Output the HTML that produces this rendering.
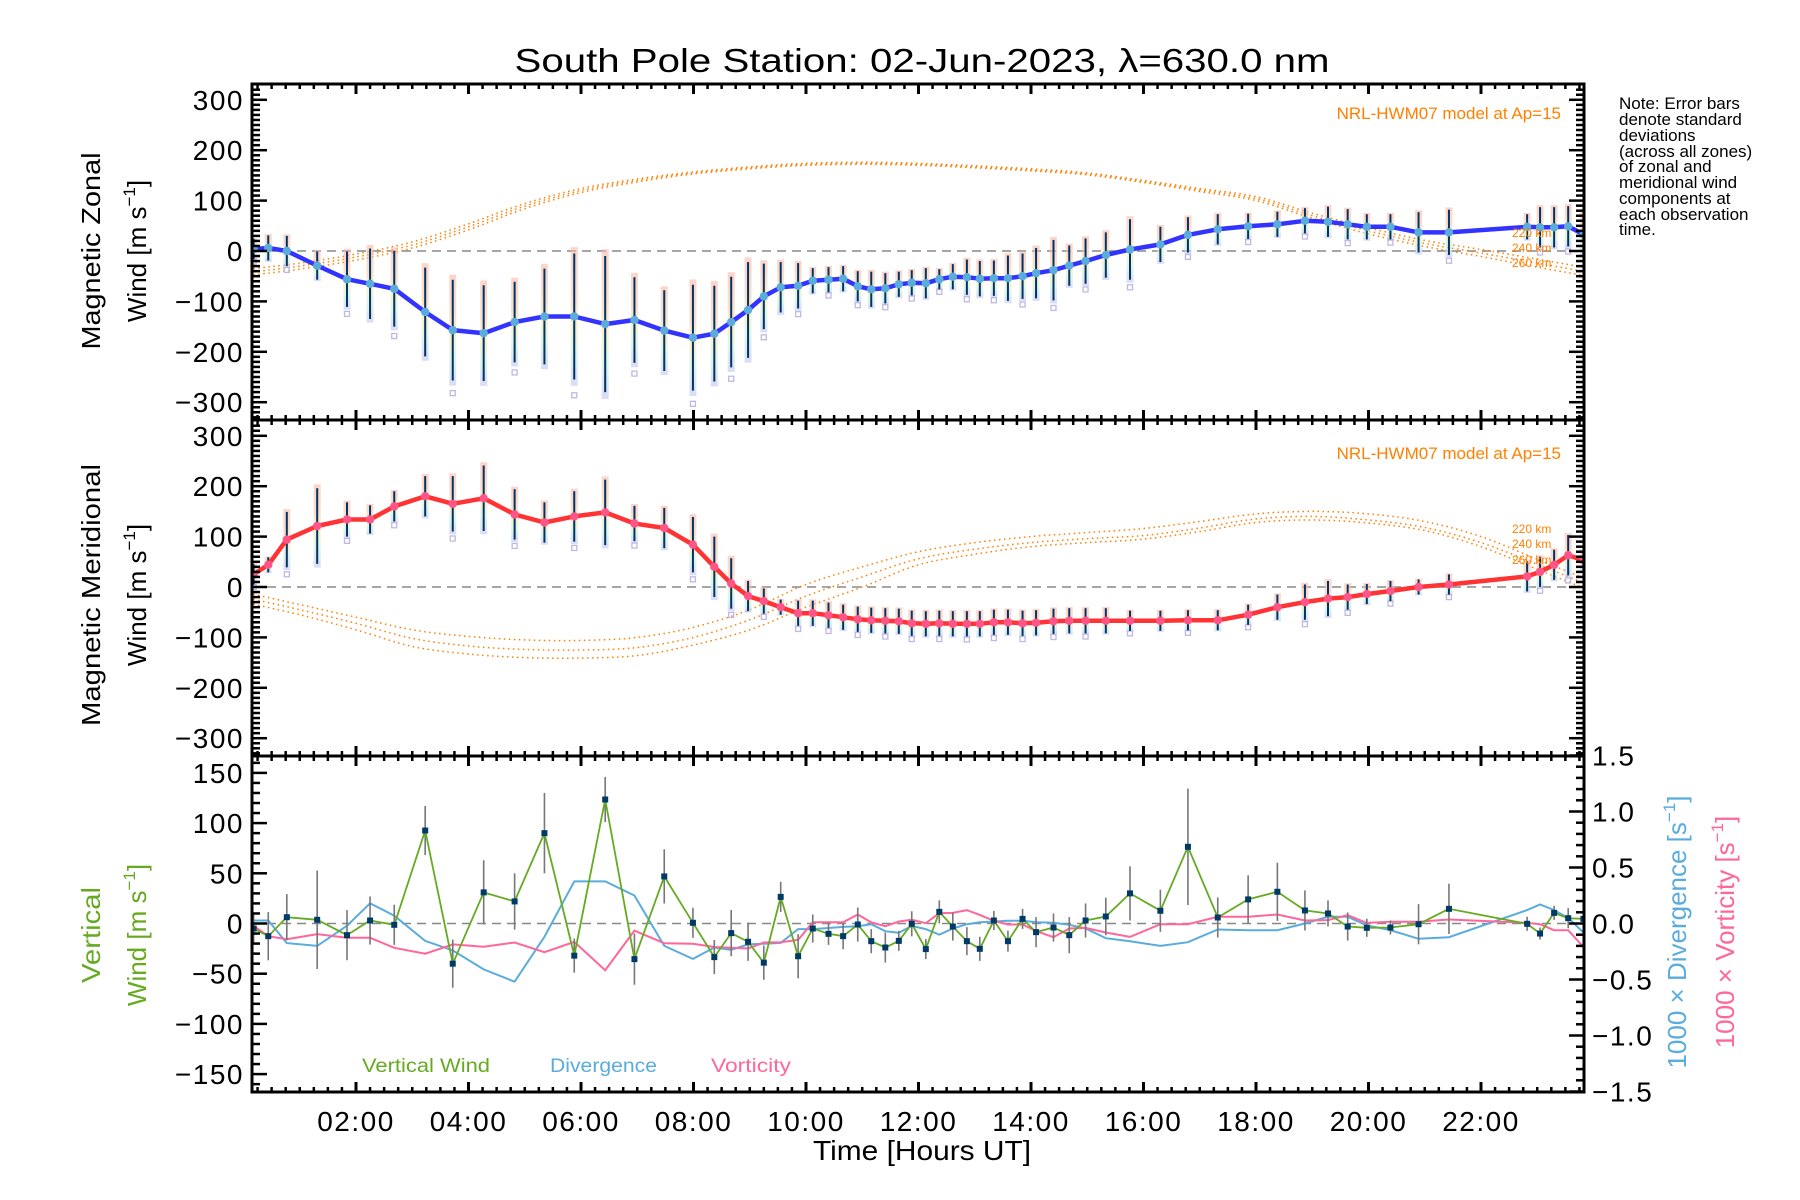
<!DOCTYPE html>
<html><head><meta charset="utf-8"><title>South Pole Station winds</title>
<style>
html,body{margin:0;padding:0;background:#fff;}
svg{display:block;font-family:"Liberation Sans",sans-serif;}
</style></head>
<body>
<svg id="chart" width="1800" height="1200" viewBox="0 0 1800 1200" xmlns="http://www.w3.org/2000/svg">
<defs>
<linearGradient id="pastel" x1="0" y1="0" x2="0" y2="1">
<stop offset="0" stop-color="#f9b8a8"/><stop offset="0.35" stop-color="#f9c8a8"/><stop offset="0.55" stop-color="#fbe6a8"/><stop offset="0.75" stop-color="#c8f0d8"/><stop offset="1" stop-color="#c0c4f4"/>
</linearGradient>
<clipPath id="clip1"><rect x="252" y="84" width="1332" height="336"/></clipPath>
<clipPath id="clip2"><rect x="252" y="420" width="1332" height="336"/></clipPath>
<clipPath id="clip3"><rect x="252" y="756" width="1332" height="336"/></clipPath>
</defs>
<rect x="0" y="0" width="1800" height="1200" fill="#fff"/>
<text x="922" y="72" font-size="33" text-anchor="middle" textLength="815" lengthAdjust="spacingAndGlyphs">South Pole Station: 02-Jun-2023, λ=630.0 nm</text>
<g id="g1"></g>
<g id="g2"></g>
<g id="g3"></g>
<g id="axes"></g>
<g id="labels">
<text transform="translate(100,251) rotate(-90)" font-size="26" text-anchor="middle" textLength="197" lengthAdjust="spacingAndGlyphs">Magnetic Zonal</text>
<text transform="translate(146,251) rotate(-90)" font-size="26" text-anchor="middle">Wind [m s<tspan font-size="17" dy="-11">−1</tspan><tspan dy="11">]</tspan></text>
<text transform="translate(100,595) rotate(-90)" font-size="26" text-anchor="middle" textLength="262" lengthAdjust="spacingAndGlyphs">Magnetic Meridional</text>
<text transform="translate(146,595) rotate(-90)" font-size="26" text-anchor="middle">Wind [m s<tspan font-size="17" dy="-11">−1</tspan><tspan dy="11">]</tspan></text>
<text transform="translate(100,935) rotate(-90)" font-size="26" fill="#66aa22" text-anchor="middle" textLength="96" lengthAdjust="spacingAndGlyphs">Vertical</text>
<text transform="translate(146,935) rotate(-90)" font-size="26" fill="#66aa22" text-anchor="middle">Wind [m s<tspan font-size="17" dy="-11">−1</tspan><tspan dy="11">]</tspan></text>
<text transform="translate(1686,932) rotate(-90)" font-size="26" fill="#5aacdc" text-anchor="middle">1000 × Divergence [s<tspan font-size="17" dy="-11">−1</tspan><tspan dy="11">]</tspan></text>
<text transform="translate(1734,932) rotate(-90)" font-size="26" fill="#ff6699" text-anchor="middle">1000 × Vorticity [s<tspan font-size="17" dy="-11">−1</tspan><tspan dy="11">]</tspan></text>
<text x="922" y="1160" font-size="28" text-anchor="middle" textLength="218" lengthAdjust="spacingAndGlyphs">Time [Hours UT]</text>
<text x="1561" y="119" font-size="17" fill="#ff8000" text-anchor="end">NRL-HWM07 model at Ap=15</text>
<text x="1561" y="459" font-size="17" fill="#ff8000" text-anchor="end">NRL-HWM07 model at Ap=15</text>
<g font-size="12" fill="#ff8000">
<text x="1512" y="237">220 km</text>
<text x="1512" y="252">240 km</text>
<text x="1512" y="267">260 km</text>
<text x="1512" y="533">220 km</text>
<text x="1512" y="548">240 km</text>
<text x="1512" y="564">260 km</text>
</g>
<g font-size="17">
<text x="1619" y="109">Note: Error bars</text>
<text x="1619" y="125">denote standard</text>
<text x="1619" y="141">deviations</text>
<text x="1619" y="157">(across all zones)</text>
<text x="1619" y="172">of zonal and</text>
<text x="1619" y="188">meridional wind</text>
<text x="1619" y="204">components at</text>
<text x="1619" y="220">each observation</text>
<text x="1619" y="235">time.</text>
</g>
<text x="362" y="1072" font-size="19" fill="#66aa22" textLength="128" lengthAdjust="spacingAndGlyphs">Vertical Wind</text>
<text x="550" y="1072" font-size="19" fill="#5aacdc" textLength="107" lengthAdjust="spacingAndGlyphs">Divergence</text>
<text x="711" y="1072" font-size="19" fill="#ff6699" textLength="80" lengthAdjust="spacingAndGlyphs">Vorticity</text>
</g>
</svg>
<script>
const T=[0.18,0.44,0.77,1.31,1.84,2.25,2.68,3.23,3.72,4.27,4.82,5.35,5.88,6.43,6.95,7.48,7.99,8.37,8.67,8.97,9.25,9.55,9.86,10.12,10.40,10.66,10.92,11.16,11.41,11.65,11.88,12.13,12.37,12.61,12.86,13.09,13.34,13.59,13.85,14.09,14.40,14.68,14.97,15.33,15.76,16.30,16.79,17.32,17.86,18.38,18.87,19.28,19.63,19.97,20.39,20.89,21.43,22.82,23.05,23.30,23.55,23.82];
const ZONAL=[4,6,0,-29,-56,-65,-75,-121,-157,-163,-141,-130,-130,-145,-137,-158,-172,-164,-141,-117,-90,-72,-69,-59,-57,-55,-70,-76,-74,-66,-63,-64,-56,-51,-52,-55,-54,-54,-50,-44,-38,-29,-20,-8,3,13,32,43,49,53,60,58,53,48,48,37,37,48,47,47,49,33];
const ZONAL_ERR=[20,25,30,28,55,70,75,88,100,95,80,95,125,135,85,80,105,95,90,95,65,50,45,25,25,25,30,35,30,25,25,30,20,25,35,35,35,45,45,50,60,40,45,45,60,35,35,30,25,25,25,30,30,25,25,40,45,25,40,40,40,40];
const MERID=[25,44,94,121,134,134,160,180,165,176,144,128,140,148,126,117,84,40,7,-18,-28,-40,-52,-52,-56,-60,-64,-66,-67,-68,-72,-73,-72,-73,-73,-73,-70,-70,-72,-71,-68,-67,-67,-67,-67,-67,-66,-66,-55,-40,-30,-23,-20,-14,-8,0,5,21,30,44,63,53];
const MERID_ERR=[20,15,55,75,34,28,30,40,55,65,50,40,50,65,35,40,55,60,50,30,25,15,25,25,25,25,25,25,25,25,25,25,25,25,25,25,25,25,25,25,25,25,25,25,20,20,20,20,20,25,35,35,25,20,20,15,20,30,30,30,40,20];
const VWIND=[-5,-12.6,6.3,3.7,-11.6,3,-1.3,92.6,-40,31,22,90,-32,123.5,-35.5,46.9,0.7,-33.5,-9.6,-18.2,-39,26.5,-32.6,-5,-10.3,-12.6,-1,-17.6,-23.9,-17.3,-0.3,-25.5,11.6,-3,-17.6,-25.2,3,-17.6,4.6,-8.6,-4,-11.6,3,7,30,12.7,76.4,6,24,31.6,13,10,-3,-4.3,-4,-0.7,14.6,-0.3,-10,10.6,5.3,4.6];
const VWIND_ERR=[15,24,23,49,25,24,20,24.5,24,32,28,40,17,22.5,25.5,27,15,17,23,19,17,15,22,14,11,13,17,12,15,10,12.5,10,11.5,14,14,12,9.5,10.5,10,15,14,18,17,18.7,27,21,58,20,24,29,20,13,14,9,7,20,25,7,6,7,10,0];
const DIVERG=[0.027,0.027,-0.175,-0.2,-0.02,0.18,0.07,-0.155,-0.24,-0.41,-0.52,-0.12,0.376,0.376,0.25,-0.2,-0.316,-0.214,-0.235,-0.187,-0.18,-0.173,-0.05,-0.05,-0.04,-0.03,-0.024,-0.006,-0.069,-0.083,-0.021,-0.05,-0.1,-0.045,-0.006,0.012,0.018,0.024,0.024,0.012,0.006,-0.012,-0.045,-0.131,-0.158,-0.2,-0.167,-0.054,-0.06,-0.06,0,0.06,0.06,-0.017,-0.06,-0.137,-0.122,0.12,0.17,0.12,0.05,-0.08];
const VORT=[-0.02,-0.113,-0.14,-0.095,-0.128,-0.128,-0.217,-0.27,-0.187,-0.208,-0.17,-0.256,-0.164,-0.417,-0.063,-0.176,-0.18,-0.21,-0.217,-0.223,-0.17,-0.167,-0.146,0.012,0.012,0.012,0.08,0.01,-0.024,0.018,0.033,0.003,0.092,0.095,0.12,0.077,0.024,-0.009,-0.009,-0.068,-0.122,-0.045,-0.039,-0.08,-0.12,-0.006,-0.006,0.06,0.06,0.08,0.027,0.03,0.074,0.005,0.015,0.015,0.036,0.005,-0.006,-0.06,-0.06,-0.21];
const MODEL_HOURS=[0,1,2,3,4,5,6,7,8,9,10,11,12,13,14,15,16,17,18,19,20,21,22,23,24];
const HWM_ZON_220=[-37,-24,-6,18,54,94,124,143,157,167,174,176,174,169,163,155,140,124,108,75,46,21,3,-16,-36];
const HWM_ZON_240=[-44,-30,-12,12,48,89,120,140,155,165,172,174,172,167,161,153,138,121,104,70,40,15,-4,-24,-44];
const HWM_ZON_260=[-50,-36,-18,6,42,84,116,137,153,163,170,172,170,165,159,151,136,118,100,65,34,9,-11,-32,-52];
const HWM_MER_220=[-10,-35,-60,-85,-98,-105,-106,-100,-80,-45,5,40,70,88,100,108,116,130,145,150,145,130,100,55,10];
const HWM_MER_240=[-20,-45,-72,-102,-117,-124,-125,-120,-100,-65,-18,20,56,75,88,96,102,117,135,140,133,118,88,45,0];
const HWM_MER_260=[-30,-55,-85,-118,-133,-140,-141,-136,-115,-85,-40,0,44,65,80,88,95,110,128,133,127,112,80,35,-10];
const X_TICKS=[2,4,6,8,10,12,14,16,18,20,22];
const X_TICK_LABELS=["02:00","04:00","06:00","08:00","10:00","12:00","14:00","16:00","18:00","20:00","22:00"];

const NS="http://www.w3.org/2000/svg";
const XL=252,XR=1584;
function xs(t){return 356+(t-2)*56.25;}
function y1(v){return 251-v*0.504;}
function y2(v){return 587-v*0.504;}
function y3(v){return 923.5-v*1.004;}
function y3r(d){return 923.5-d*112;}
function mk(tag,attrs,parent){const e=document.createElementNS(NS,tag);for(const k in attrs)e.setAttribute(k,attrs[k]);parent.appendChild(e);return e;}
function poly(ts,vs,yf){return ts.map((t,i)=>xs(t).toFixed(1)+","+yf(vs[i]).toFixed(1)).join(" ");}
function smooth(ts,vs,yf){
  const p=ts.map((t,i)=>[xs(t),yf(vs[i])]);
  let d="M"+p[0][0]+","+p[0][1];
  for(let i=0;i<p.length-1;i++){
    const p0=p[Math.max(0,i-1)],p1=p[i],p2=p[i+1],p3=p[Math.min(p.length-1,i+2)];
    const c1=[p1[0]+(p2[0]-p0[0])/6,p1[1]+(p2[1]-p0[1])/6];
    const c2=[p2[0]-(p3[0]-p1[0])/6,p2[1]-(p3[1]-p1[1])/6];
    d+=" C"+c1[0].toFixed(1)+","+c1[1].toFixed(1)+" "+c2[0].toFixed(1)+","+c2[1].toFixed(1)+" "+p2[0].toFixed(1)+","+p2[1].toFixed(1);
  }
  return d;
}
const g1=document.getElementById('g1'),g2=document.getElementById('g2'),g3=document.getElementById('g3'),ga=document.getElementById('axes');

function windPanel(g,clip,yf,vals,errs,models,lineCol,dotCol,prefix){
  const c=mk('g',{'clip-path':'url(#'+clip+')'},g);
  const zl=mk('line',{x1:XL,x2:XR,y1:yf(0),y2:yf(0),stroke:'#888','stroke-width':1.5,'stroke-dasharray':'9 6'},c);
  
  
  models.forEach((m,k)=>{
    const p=mk('path',{d:smooth(MODEL_HOURS,m,yf),fill:'none',stroke:'#ff8000','stroke-width':1.5,'stroke-dasharray':'1.5 3.5'},c);
    
    
  });
  T.forEach((t,i)=>{
    const e=errs[i];
    const r=mk('rect',{x:xs(t)-3.5,y:yf(vals[i]+e*1.1),width:7,height:Math.max(1,yf(vals[i]-e*1.1)-yf(vals[i]+e*1.1)),fill:'url(#pastel)',opacity:0.6},c);
    
    
    if(i%2==0){
      const q=mk('rect',{x:xs(t)-2.5,y:yf(vals[i]-e*1.25)-2.5,width:5,height:5,fill:'none',stroke:'#c0b8e4','stroke-width':1.3},c);
      
      
    }
  });
  T.forEach((t,i)=>{
    const l=mk('line',{x1:xs(t),x2:xs(t),y1:yf(vals[i]+errs[i]),y2:yf(vals[i]-errs[i]),stroke:'#003366','stroke-width':2},c);
    
    
  });
  const pl=mk('polyline',{points:poly(T,vals,yf),fill:'none',stroke:lineCol,'stroke-width':4.5,'stroke-linejoin':'round'},c);
  
  
  T.forEach((t,i)=>{
    const d=mk('circle',{cx:xs(t),cy:yf(vals[i]),r:4.2,fill:dotCol},c);
    
    
  });
}
windPanel(g1,'clip1',y1,ZONAL,ZONAL_ERR,[HWM_ZON_220,HWM_ZON_240,HWM_ZON_260],'#3333ff','#5aacdc','zonal');
windPanel(g2,'clip2',y2,MERID,MERID_ERR,[HWM_MER_220,HWM_MER_240,HWM_MER_260],'#ff3333','#ff5588','meridional');

(function(){
  const c=mk('g',{'clip-path':'url(#clip3)'},g3);
  const zl=mk('line',{x1:XL,x2:XR,y1:y3(0),y2:y3(0),stroke:'#888','stroke-width':1.5,'stroke-dasharray':'9 6'},c);
  
  
  const dv=mk('polyline',{points:poly(T,DIVERG,y3r),fill:'none',stroke:'#5aacdc','stroke-width':2},c);
  
  
  const vo=mk('polyline',{points:poly(T,VORT,y3r),fill:'none',stroke:'#ff6699','stroke-width':2},c);
  
  
  T.forEach((t,i)=>{
    if(VWIND_ERR[i]<=0)return;
    const l=mk('line',{x1:xs(t),x2:xs(t),y1:y3(VWIND[i]+VWIND_ERR[i]),y2:y3(VWIND[i]-VWIND_ERR[i]),stroke:'#777','stroke-width':1.6},c);
    
    
  });
  const vw=mk('polyline',{points:poly(T,VWIND,y3),fill:'none',stroke:'#66aa22','stroke-width':1.8},c);
  
  
  T.forEach((t,i)=>{
    const d=mk('rect',{x:xs(t)-3,y:y3(VWIND[i])-3,width:6,height:6,fill:'#003a66'},c);
    
    
  });
})();

function tickText(x,y,s,anchor,size,name){
  const t=mk('text',{x:x,y:y,'font-size':size,'text-anchor':anchor,'letter-spacing':'1.5'},ga);
  t.textContent=s;
  
  
}
function fmt(v){return v<0?"−"+Math.abs(v):String(v);}
const tops=[84,420,756],bots=[420,756,1092];
for(let p=0;p<3;p++){
  const T0=tops[p],B0=bots[p];
  for(let t=0.25;t<24;t+=0.25){
    const x=xs(t); if(x<XL+2||x>XR-2)continue;
    const major=Math.abs(t/2-Math.round(t/2))<1e-6;
    const L=major?10:5;
    mk('line',{x1:x,x2:x,y1:B0,y2:B0-L,stroke:'#000','stroke-width':major?3:2.5},ga);
    mk('line',{x1:x,x2:x,y1:T0,y2:T0+L,stroke:'#000','stroke-width':major?3:2.5},ga);
  }
  if(p<2){
    const yf=p==0?y1:y2;
    for(let v=-330;v<=330;v+=10){
      const y=yf(v); if(y<T0+1||y>B0-1)continue;
      const major=v%100==0; const L=major?15:8;
      mk('line',{x1:XL,x2:XL+L,y1:y,y2:y,stroke:'#000','stroke-width':2.5},ga);
      mk('line',{x1:XR,x2:XR-L,y1:y,y2:y,stroke:'#000','stroke-width':2.5},ga);
      if(major)tickText(244,y+10,fmt(v),'end',28,(p==0?'zonal':'meridional')+'-y-tick-label');
    }
  } else {
    for(let v=-160;v<=160;v+=10){
      const y=y3(v); if(y<T0+1||y>B0-1)continue;
      const major=v%50==0; const L=major?15:8;
      mk('line',{x1:XL,x2:XL+L,y1:y,y2:y,stroke:'#000','stroke-width':2.5},ga);
      if(major)tickText(244,y+10,fmt(v),'end',28,'vertical-y-tick-label');
    }
    for(let k=-15;k<=15;k++){
      const d=k/10; const y=y3r(d); if(y<T0-1||y>B0+1)continue;
      const major=k%5==0; const L=major?15:8;
      mk('line',{x1:XR,x2:XR-L,y1:y,y2:y,stroke:'#000','stroke-width':2.5},ga);
      if(major)tickText(1592,y+10,(d<0?"−":"")+Math.abs(d).toFixed(1),'start',28,'right-y-tick-label');
    }
  }
  const fr=mk('rect',{x:XL,y:T0,width:XR-XL,height:B0-T0,fill:'none',stroke:'#000','stroke-width':3},ga);
  
  
}
X_TICKS.forEach((t,i)=>tickText(xs(t),1131,X_TICK_LABELS[i],'middle',28,'x-tick-label'));
</script>
</body></html>
